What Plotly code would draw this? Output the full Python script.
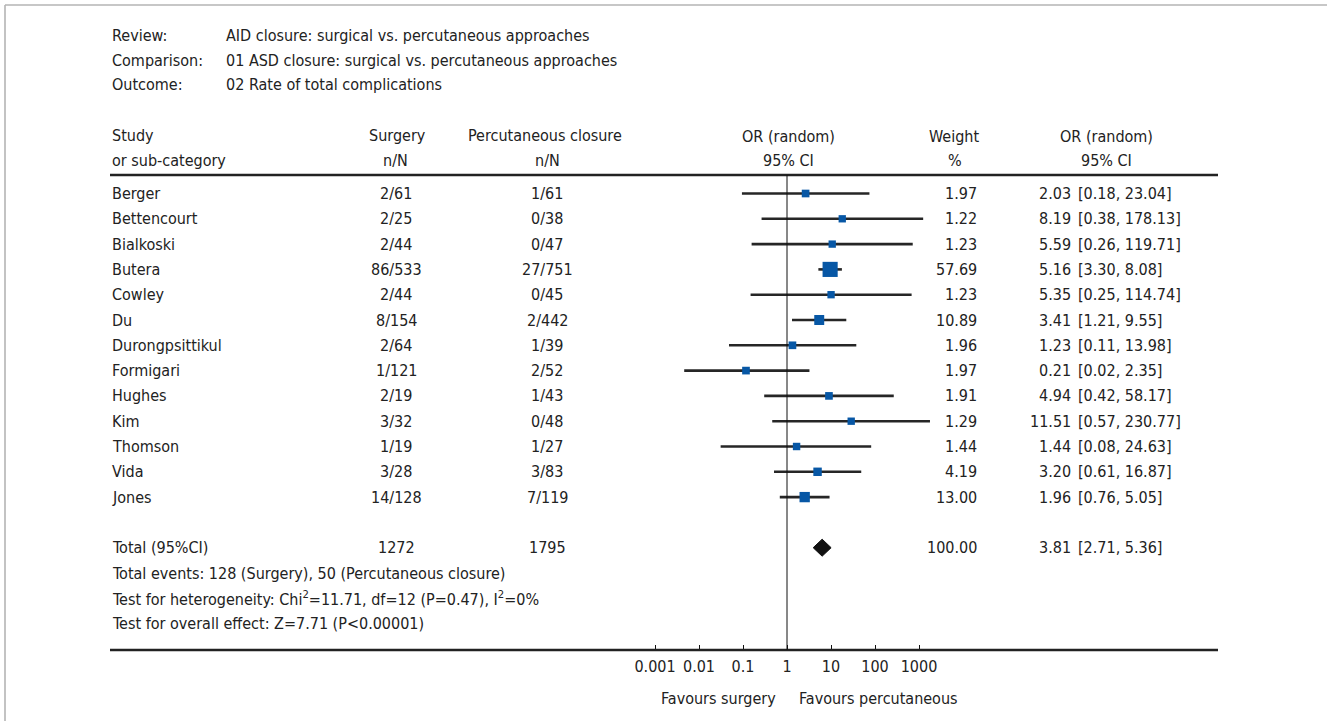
import math
import plotly.graph_objects as go

# ---------------- data ----------------
studies = ["Berger", "Bettencourt", "Bialkoski", "Butera", "Cowley", "Du",
           "Durongpsittikul", "Formigari", "Hughes", "Kim", "Thomson", "Vida", "Jones"]
surgery_nN = ["2/61", "2/25", "2/44", "86/533", "2/44", "8/154", "2/64", "1/121",
              "2/19", "3/32", "1/19", "3/28", "14/128"]
percut_nN = ["1/61", "0/38", "0/47", "27/751", "0/45", "2/442", "1/39", "2/52",
             "1/43", "0/48", "1/27", "3/83", "7/119"]
or_est = [2.03, 8.19, 5.59, 5.16, 5.35, 3.41, 1.23, 0.21, 4.94, 11.51, 1.44, 3.20, 1.96]
ci_lo = [0.18, 0.38, 0.26, 3.30, 0.25, 1.21, 0.11, 0.02, 0.42, 0.57, 0.08, 0.61, 0.76]
ci_hi = [23.04, 178.13, 119.71, 8.08, 114.74, 9.55, 13.98, 2.35, 58.17, 230.77, 24.63, 16.87, 5.05]
weights = [1.97, 1.22, 1.23, 57.69, 1.23, 10.89, 1.96, 1.97, 1.91, 1.29, 1.44, 4.19, 13.00]

total_label = "Total (95%CI)"
total_surgery_N = "1272"
total_percut_N = "1795"
total_weight = 100.00
total_or = 3.81
total_lo = 2.71
total_hi = 5.36

header_keys = ["Review:", "Comparison:", "Outcome:"]
header_vals = ["AID closure: surgical vs. percutaneous approaches",
               "01 ASD closure: surgical vs. percutaneous approaches",
               "02 Rate of total complications"]
footer_lines = ["Total events: 128 (Surgery), 50 (Percutaneous closure)",
                "Test for heterogeneity: Chi<sup>2</sup>=11.71, df=12 (P=0.47), I<sup>2</sup>=0%",
                "Test for overall effect: Z=7.71 (P<0.00001)"]
axis_ticks = [0.001, 0.01, 0.1, 1, 10, 100, 1000]
axis_tick_labels = ["0.001", "0.01", "0.1", "1", "10", "100", "1000"]

# ---------------- layout helpers ----------------
W, H = 1327, 721
FONT = "'Liberation Sans Narrow', 'DejaVu Sans Condensed', 'Arial Narrow', sans-serif"
FS = 16
TXT = "#222222"

def PX(x):
    return x / W

def PY(y):
    return 1 - y / H

ROW0, ROWH = 193.5, 25.3          # pixel y of first row, row pitch
NULL_X = 787                       # pixel x of OR = 1
DEC_DATA = 60.5                    # px per decade for the CI plot
DEC_AXIS = 44.0                    # px per decade for the printed scale
PLOT_L, PLOT_R = 600, 1000

n = len(studies)
rows = list(range(n))
total_row = n + 1

fig = go.Figure()

# CI lines
xs, ys = [], []
for i in rows:
    xs += [ci_lo[i], ci_hi[i], None]
    ys += [i, i, None]
fig.add_trace(go.Scatter(x=xs, y=ys, mode="lines",
                         line=dict(color="#262626", width=2.6),
                         hoverinfo="skip", showlegend=False))

# squares
sizes = [6 + 1.2 * math.sqrt(w) for w in weights]
fig.add_trace(go.Scatter(x=or_est, y=rows, mode="markers", opacity=1,
                         marker=dict(symbol="square", size=sizes, color="#0757a5",
                                     opacity=1, line=dict(width=0)),
                         hoverinfo="skip", showlegend=False))

# diamond
half = 8.5 / ROWH
fig.add_trace(go.Scatter(x=[total_lo, total_or, total_hi, total_or, total_lo],
                         y=[total_row, total_row - half, total_row, total_row + half, total_row],
                         mode="lines", fill="toself", fillcolor="#111111",
                         line=dict(color="#111111", width=1),
                         hoverinfo="skip", showlegend=False))

# printed scale axis (dummy trace)
fig.add_trace(go.Scatter(x=axis_ticks, y=[None] * len(axis_ticks), xaxis="x2", yaxis="y",
                         mode="markers", marker=dict(opacity=0),
                         hoverinfo="skip", showlegend=False))

ann = []

def add_text(x, y, text, xanchor="left", yref="paper", size=FS):
    ann.append(dict(x=PX(x), y=y if yref == "y" else PY(y), xref="paper", yref=yref,
                    text=text, showarrow=False, xanchor=xanchor, yanchor="middle",
                    font=dict(family=FONT, size=size, color=TXT)))

# header block
for k, (key, val) in enumerate(zip(header_keys, header_vals)):
    add_text(110, 36 + 24.5 * k, key)
    add_text(224, 36 + 24.5 * k, val)

# column headers
add_text(110, 135, "Study")
add_text(110, 160, "or sub-category")
add_text(397, 135, "Surgery", "center")
add_text(395, 160, "n/N", "center")
add_text(545, 135, "Percutaneous closure", "center")
add_text(547, 160, "n/N", "center")
add_text(788, 136, "OR (random)", "center")
add_text(788, 160, "95% CI", "center")
add_text(954, 136, "Weight", "center")
add_text(955, 160, "%", "center")
add_text(1106, 136, "OR (random)", "center")
add_text(1106, 160, "95% CI", "center")

# rows
for i in rows:
    add_text(110, i, studies[i], "left", "y")
    add_text(396, i, surgery_nN[i], "center", "y")
    add_text(547, i, percut_nN[i], "center", "y")
    add_text(979, i, f"{weights[i]:.2f}", "right", "y")
    add_text(1073, i, f"{or_est[i]:.2f}", "right", "y")
    add_text(1076, i, f"[{ci_lo[i]:.2f}, {ci_hi[i]:.2f}]", "left", "y")

# total row
add_text(110, total_row, total_label, "left", "y")
add_text(396, total_row, total_surgery_N, "center", "y")
add_text(547, total_row, total_percut_N, "center", "y")
add_text(979, total_row, f"{total_weight:.2f}", "right", "y")
add_text(1073, total_row, f"{total_or:.2f}", "right", "y")
add_text(1076, total_row, f"[{total_lo:.2f}, {total_hi:.2f}]", "left", "y")

for k, line in enumerate(footer_lines):
    add_text(110, total_row + 1 + k, line, "left", "y")

add_text(778, 698, "Favours surgery", "right")
add_text(797, 698, "Favours percutaneous", "left")

shapes = [
    # outer grey frame (top and left visible)
    dict(type="line", xref="paper", yref="paper", x0=PX(5), x1=1.0, y0=PY(5), y1=PY(5),
         line=dict(color="#b4b4b4", width=1.6)),
    dict(type="line", xref="paper", yref="paper", x0=PX(5), x1=PX(5), y0=PY(5), y1=0.0,
         line=dict(color="#b4b4b4", width=1.6)),
    # header rule and bottom rule
    dict(type="line", xref="paper", yref="paper", x0=PX(110), x1=PX(1218), y0=PY(175), y1=PY(175),
         line=dict(color="#222222", width=2.4)),
    dict(type="line", xref="paper", yref="paper", x0=PX(110), x1=PX(1218), y0=PY(650), y1=PY(650),
         line=dict(color="#222222", width=2.6)),
    # line of no effect
    dict(type="line", xref="x", yref="paper", x0=1, x1=1, y0=PY(175), y1=PY(650),
         line=dict(color="#111111", width=1)),
]

fig.update_layout(
    width=W, height=H, autosize=False,
    margin=dict(l=0, r=0, t=0, b=0, pad=0),
    paper_bgcolor="white", plot_bgcolor="rgba(0,0,0,0)",
    showlegend=False,
    xaxis=dict(type="log", domain=[PX(PLOT_L), PX(PLOT_R)],
               range=[(PLOT_L - NULL_X) / DEC_DATA, (PLOT_R - NULL_X) / DEC_DATA],
               showgrid=False, zeroline=False, showline=False, showticklabels=False,
               ticks="", fixedrange=True),
    xaxis2=dict(type="log", domain=[PX(PLOT_L), PX(PLOT_R)], overlaying="x",
                anchor="free", position=PY(650), side="bottom",
                range=[(PLOT_L - NULL_X) / DEC_AXIS, (PLOT_R - NULL_X) / DEC_AXIS],
                tickmode="array", tickvals=axis_ticks, ticktext=axis_tick_labels,
                ticks="inside", ticklen=5, tickwidth=1, tickcolor="#111111",
                ticklabelstandoff=5,
                showgrid=False, zeroline=False, showline=False,
                tickfont=dict(family=FONT, size=FS, color=TXT), fixedrange=True),
    yaxis=dict(domain=[0, 1], range=[(H - ROW0) / ROWH, -ROW0 / ROWH],
               showgrid=False, zeroline=False, showline=False, showticklabels=False,
               ticks="", fixedrange=True),
    annotations=ann,
    shapes=shapes,
)

fig.write_html("out.html", config={"displayModeBar": False},
               post_script="document.body.style.margin='0';document.body.style.overflow='hidden';")
